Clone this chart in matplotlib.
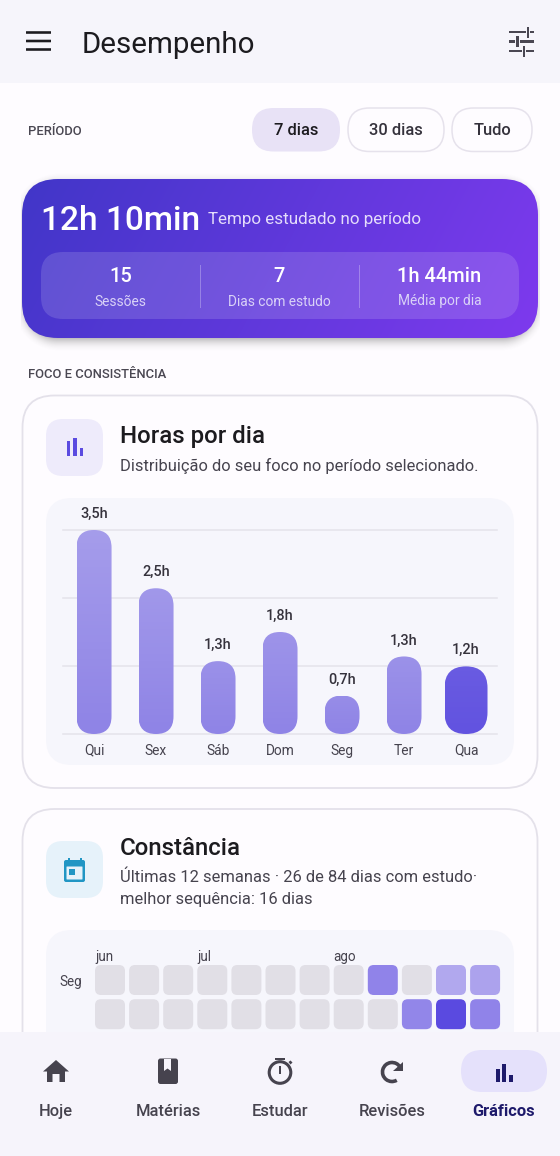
import numpy as np
import matplotlib
matplotlib.use("Agg")
import matplotlib.pyplot as plt
from matplotlib.patches import FancyBboxPatch, Rectangle, Circle, Polygon, Wedge, Arc
from matplotlib.colors import LinearSegmentedColormap, Normalize, to_rgb

plt.rcParams['font.family'] = ['Roboto', 'DejaVu Sans']

# ---------- data ----------
days = ["Qui", "Sex", "Sáb", "Dom", "Seg", "Ter", "Qua"]
hours = [3.5, 2.5, 1.25, 1.75, 0.66, 1.33, 1.16]
hour_labels = ["3,5h", "2,5h", "1,3h", "1,8h", "0,7h", "1,3h", "1,2h"]
grid_hours = [0, 1.1667, 2.3333, 3.5]

heat_seg = [0, 0, 0, 0, 0, 0, 0, 0, 1.8, 0, 0.6, 0.8]
heat_ter = [0, 0, 0, 0, 0, 0, 0, 0, 0, 1.7, 3.5, 1.8]
heat_rows = ["Seg", ""]
heat_months = [("jun", 0), ("jul", 3), ("ago", 7)]

periods = ["7 dias", "30 dias", "Tudo"]
stats = [("15", "Sessões"), ("7", "Dias com estudo"), ("1h 44min", "Média por dia")]
nav_items = ["Hoje", "Matérias", "Estudar", "Revisões", "Gráficos"]

# ---------- figure ----------
W, H = 560, 1156
fig = plt.figure(figsize=(W / 100, H / 100), dpi=100, facecolor="#FEFCFF")


def px_axes(z):
    a = fig.add_axes([0, 0, 1, 1], zorder=z)
    a.set_xlim(0, W)
    a.set_ylim(H, 0)
    a.axis("off")
    a.patch.set_alpha(0)
    return a


def rr(a, x0, y0, x1, y1, r, fc="none", ec="none", lw=0, z=2, alpha=None):
    p = FancyBboxPatch((x0, y0), x1 - x0, y1 - y0,
                       boxstyle=f"round,pad=0,rounding_size={r}",
                       fc=fc, ec=ec, lw=lw, zorder=z, alpha=alpha)
    a.add_patch(p)
    return p


def tx(a, x, y, s, px, color="#1C1B1F", ha="left", weight="normal", z=6):
    return a.text(x, y, s, fontsize=px * 0.72, color=color, ha=ha, va="center_baseline",
                  fontweight=weight, zorder=z)


bg = px_axes(0)
top = px_axes(5)

# ---------- app bar ----------
bg.add_patch(Rectangle((0, 0), W, 83, fc="#F6F5FB", ec="none", zorder=1))
for y in (32.5, 41, 49.5):
    rr(bg, 26, y - 1.3, 51, y + 1.3, 0.3, fc="#1C1B1F", z=3)
tx(bg, 82, 42, "Desempenho", 29.5)
ic = "#4A4752"
for y, a0, a1, k0, k1 in ((32, 508.5, 530, 526, 530), (41.5, 508.5, 534, 515, 522), (51, 508.5, 534, 522, 526)):
    pass
for y, segs, kx in ((32, [(509, 526), (530, 534)], 528), (41.5, [(509, 515), (520, 534)], 517.5), (51, [(509, 522), (526, 534)], 524)):
    for s0, s1 in segs:
        bg.add_patch(Rectangle((s0, y - 1.3), s1 - s0, 2.6, fc=ic, ec="none", zorder=3))
    bg.add_patch(Rectangle((kx - 1.3, y - 5.5), 2.6, 11, fc=ic, ec="none", zorder=3))

# ---------- period ----------
tx(bg, 28, 130, "PERÍODO", 13, color="#4A4752", weight="medium")
chips = [(252, 340, "#E8E2F6", None), (348, 444, "#FEFCFF", "#E6E2EC"), (452, 532, "#FEFCFF", "#E6E2EC")]
for (x0, x1, fc, ec), lab in zip(chips, periods):
    rr(bg, x0, 108, x1, 151.5, 21.5, fc=fc, ec=ec or "none", lw=1.1 if ec else 0, z=2)
    tx(bg, (x0 + x1) / 2, 129, lab, 16.5, ha="center", weight="medium", color="#1C1B1F" if ec is None else "#35323C")

# ---------- hero card ----------
yy, xx = np.mgrid[165:356, 21:540]
x0, y0, x1, y1, rad = 22, 181, 538, 343, 36
qx = np.abs(xx + .5 - (x0 + x1) / 2) - ((x1 - x0) / 2 - rad)
qy = np.abs(yy + .5 - (y0 + y1) / 2) - ((y1 - y0) / 2 - rad)
dist = np.hypot(np.maximum(qx, 0), np.maximum(qy, 0)) + np.minimum(np.maximum(qx, qy), 0) - rad
sh = np.zeros(xx.shape + (4,))
sh[..., :3] = 0.32
sh[..., 3] = 0.38 * np.clip(1 - (dist + 5) / 14, 0, 1) ** 2
bg.imshow(sh, extent=(21, 540, 356, 165), zorder=1.5, aspect="auto", interpolation="bilinear")

c0, c1 = np.array(to_rgb("#4136C8")), np.array(to_rgb("#7E3AEE"))
gx, gy = np.meshgrid(np.linspace(0, 1, 260), np.linspace(0, 1, 80))
t = np.clip(0.86 * gx + 0.14 * gy * 1, 0, 1) ** 1.0
img = c0 + (c1 - c0) * t[..., None]
clip_hero = rr(bg, 22, 179, 538, 338, 36, fc="none", z=2)
im = bg.imshow(img, extent=(22, 538, 338, 179), zorder=2, aspect="auto", interpolation="bilinear")
im.set_clip_path(clip_hero)
bg.set_xlim(0, W)
bg.set_ylim(H, 0)

rr(bg, 41, 252, 519, 319, 22, fc="white", alpha=0.14, z=3)
for x in (200, 359.5):
    bg.add_patch(Rectangle((x - .5, 265), 1, 43, fc="white", alpha=0.28, ec="none", zorder=4))
tx(bg, 41, 218, "12h 10min", 33.5, color="white", weight="medium")
tx(bg, 208, 218, "Tempo estudado no período", 17, color="#E4DCFB")
for cx, (v, lab) in zip((120.5, 279.5, 439.5), stats):
    tx(bg, cx, 275, v, 20, color="white", ha="center", weight="medium")
    tx(bg, cx, 300, lab, 13.7, color="#D9D2F7", ha="center")

tx(bg, 28, 373, "FOCO E CONSISTÊNCIA", 13, color="#4A4752", weight="medium")

# ---------- card: horas por dia ----------
rr(bg, 22.5, 395.5, 537.5, 788, 32, fc="#FEFCFF", ec="#E4E1EA", lw=1.3, z=1.8)
rr(bg, 46, 419, 103, 476, 17, fc="#EEEBFB", z=2)
for x, y in ((66.5, 441), (73, 438), (79.5, 447.5)):
    bg.add_patch(Rectangle((x, y), 3.6, 455.5 - y, fc="#5B4BE0", ec="none", zorder=3))
tx(bg, 120, 434, "Horas por dia", 24, color="#1C1B1F", weight="medium")
tx(bg, 120, 464, "Distribuição do seu foco no período selecionado.", 16.5, color="#46434E")
rr(bg, 46, 498, 514, 765, 26, fc="#F6F6FC", z=2)

# bar axes: pixel box 63..497 x, 734..530 y
ax = fig.add_axes([63 / W, 1 - 734 / H, 434 / W, 204 / H], zorder=2)
ax.patch.set_alpha(0)
ax.set_xlim(-0.5, 6.5)
ax.set_ylim(0, 3.5)
for s in ax.spines.values():
    s.set_visible(False)
ax.set_yticks([])
ax.set_xticks(range(len(days)), days, fontsize=13.7 * .72, color="#46434E")
ax.tick_params(axis="x", length=0, pad=7)
for g in grid_hours:
    ax.axhline(g, color="#E4E3EA", lw=1.1, zorder=1, clip_on=False)

px_x = 62.0
px_y = 204 / 3.5
widths = [35 / px_x] * 6 + [43 / px_x]
bar_cols = ["#8F84E6"] * 6 + ["#6253E0"]
bars = ax.bar(range(7), hours, width=widths, color=bar_cols, zorder=2)
for i, (b, v, lab) in enumerate(zip(bars, hours, hour_labels)):
    bx, bw = b.get_x(), b.get_width()
    r = bw / 2
    clip = FancyBboxPatch((bx, 0), bw, v, boxstyle=f"round,pad=0,rounding_size={r}",
                          mutation_aspect=px_x / px_y, transform=ax.transData, fc="none", ec="none")
    ax.add_patch(clip)
    b.set_clip_path(clip)
    # soft vertical lightening, tied to the bar's own height
    n = 60
    g = np.ones((n, 1, 4))
    if i < 6:
        strength = 0.20 * np.linspace(1, 0, n)[:, None] * (v / 3.5) ** 0.6
    else:
        strength = 0.05 * np.linspace(1, 0, n)[:, None]
    g[..., 3] = strength
    ov = ax.imshow(g, extent=(bx, bx + bw, 0, v), aspect="auto", zorder=2.5)
    ov.set_clip_path(clip)
    ax.text(i, v + 9 / px_y, lab, ha="center", va="bottom", fontsize=14.5 * .72, color="#35323C",
            fontweight="medium", clip_on=False)
ax.set_xlim(-0.5, 6.5)
ax.set_ylim(0, 3.5)

# ---------- card: constância ----------
rr(bg, 22.5, 809, 537.5, 1180, 32, fc="#FEFCFF", ec="#E4E1EA", lw=1.3, z=1.8)
rr(bg, 46, 841, 103, 898, 17, fc="#E6F2FA", z=2)
cal = "#2196C4"
rr(bg, 64, 860, 85, 882, 2, fc=cal, z=3)
rr(bg, 66.5, 866.5, 82.5, 879.5, 0.5, fc="#E6F2FA", z=3.1)
bg.add_patch(Rectangle((69, 869), 6, 6, fc=cal, ec="none", zorder=3.2))
for x in (67.5, 79.5):
    bg.add_patch(Rectangle((x, 857.5), 2.2, 4, fc=cal, ec="none", zorder=3))
tx(bg, 120, 846, "Constância", 24, weight="medium")
tx(bg, 120, 876, "Últimas 12 semanas · 26 de 84 dias com estudo·", 16.5, color="#46434E")
tx(bg, 120, 898, "melhor sequência: 16 dias", 16.5, color="#46434E")
rr(bg, 46, 930, 514, 1200, 26, fc="#F6F6FC", z=2)

# heatmap axes: 12 columns, step 34.1 px; rows step 34 px
hx0, hstep, hy0, rstep, cell = 95, 34.1, 965, 34.2, 30
hm = fig.add_axes([(hx0 - (hstep - cell) / 2) / W, 1 - (hy0 + 2 * rstep - (rstep - cell) / 2) / H,
                   12 * hstep / W, 2 * rstep / H], zorder=2)
hm.patch.set_alpha(0)
hm.axis("off")
hm.set_xlim(-0.5, 11.5)
hm.set_ylim(1.5, -0.5)
cmap = LinearSegmentedColormap.from_list("heat", ["#B4ABEE", "#8A7DE8", "#5A4AE0"])
norm = Normalize(0.5, 3.5)
for r_i, row in enumerate((heat_seg, heat_ter)):
    for c_i, v in enumerate(row):
        col = "#E1DFE6" if v == 0 else cmap(norm(v))
        w = cell / hstep
        h = cell / rstep
        hm.add_patch(FancyBboxPatch((c_i - w / 2, r_i - h / 2), w, h,
                                    boxstyle=f"round,pad=0,rounding_size={6 / hstep}",
                                    mutation_aspect=hstep / rstep, fc=col, ec="none"))
for name, c in heat_months:
    tx(bg, hx0 + c * hstep, 955, name, 13.5, color="#46434E")
tx(bg, 59, 980.5, "Seg", 13.5, color="#46434E")

# ---------- bottom nav ----------
top.add_patch(Rectangle((0, 1032), W, H - 1032, fc="#F6F4FB", ec="none", zorder=1))
rr(top, 461, 1050, 547, 1092, 21, fc="#E5E1FB", z=2)
nav_x = [56, 168, 280, 392, 504]
for x, lab in zip(nav_x, nav_items):
    act = lab == "Gráficos"
    tx(top, x, 1110, lab, 16.5, ha="center", weight="bold" if act else "medium",
       color="#1E1A6B" if act else "#46434E")
dk = "#46434E"
# home
top.add_patch(Polygon([(43, 1071.5), (56, 1060), (69, 1071.5), (65, 1071.5), (65, 1082), (59.5, 1082),
                       (59.5, 1074), (52.5, 1074), (52.5, 1082), (47, 1082), (47, 1071.5)],
                      fc=dk, ec="none", zorder=3))
# book
rr(top, 158, 1058.5, 178, 1084, 2.5, fc=dk, z=3)
top.add_patch(Polygon([(164, 1059), (171, 1059), (171, 1071), (167.5, 1068.5), (164, 1071)],
                      fc="#F6F4FB", ec="none", zorder=4))
# timer
top.add_patch(Circle((280, 1072.5), 10.8, fc="none", ec=dk, lw=2.2, zorder=3))
top.add_patch(Rectangle((275, 1058), 10, 2.4, fc=dk, ec="none", zorder=3))
top.add_patch(Rectangle((278.8, 1066), 2.4, 8, fc=dk, ec="none", zorder=3))
top.add_patch(Polygon([(288.5, 1062), (290.5, 1060.5), (292.5, 1062.5), (290.5, 1064.5)], fc=dk, ec="none", zorder=3))
# refresh
top.add_patch(Arc((392, 1072), 19, 19, angle=0, theta1=-300, theta2=-30, ec=dk, lw=2.6, zorder=3))
top.add_patch(Polygon([(402.5, 1061.5), (402.5, 1071), (393, 1071)], fc=dk, ec="none", zorder=3))
# bars
for x, y in ((495.5, 1069), (502, 1063.5), (508.5, 1075)):
    top.add_patch(Rectangle((x, y), 4.3, 1082 - y, fc="#1E1A6B", ec="none", zorder=3))

fig.savefig("out.png", dpi=100, facecolor=fig.get_facecolor())
